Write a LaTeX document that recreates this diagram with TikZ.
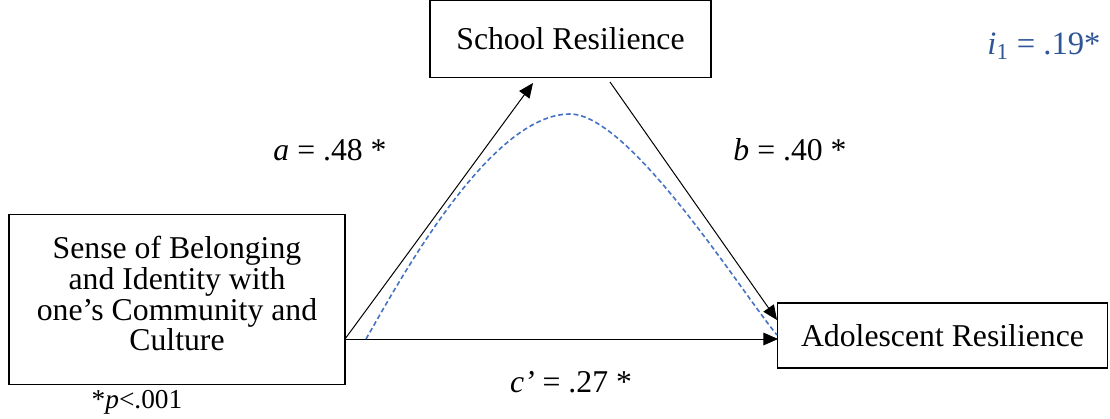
\documentclass[tikz,border=0pt]{standalone}
\usepackage{fontspec}
\setmainfont{Liberation Serif}
\usetikzlibrary{arrows.meta,calc}
\definecolor{PathBlue}{HTML}{4472C4}
\definecolor{LabelBlue}{HTML}{2F5597}

\begin{document}
\begin{tikzpicture}[x=0.75pt,y=-0.75pt,
    every node/.style={font=\fontsize{23.8}{23}\selectfont},
    box/.style={draw, line width=1pt, inner sep=0pt, align=center},
    ar/.style={-{Triangle[length=11pt,width=9.5pt]}, line width=0.75pt},
    ind/.style={PathBlue, dash pattern=on 3.6pt off 2.2pt, line width=1.2pt}]
  \useasboundingbox (0,0) rectangle (1110,418);
  % variables
  \node[box, minimum width=210.75pt, minimum height=57.75pt] (school) at (570.5,39) {School Resilience};
  \node[box, minimum width=252pt, minimum height=127.5pt, text depth=9pt] (sense) at (177,299.5)
    {Sense of Belonging\\and Identity with\\one’s Community and\\Culture};
  \node[box, minimum width=247.5pt, minimum height=48.75pt] (adol) at (942.5,335.5) {Adolescent Resilience};
  % path end points
  \coordinate (src) at (345,339);
  \coordinate (aEnd) at (533,83);
  \coordinate (bStart) at (610,82);
  \coordinate (bEnd) at (777,320);
  \coordinate (cEnd) at (778,339);
  \coordinate (i0) at (366,339);
  \coordinate (top) at (570,114);
  \coordinate (i1) at (777,335);
  \draw[ar] (src) -- (aEnd);
  \draw[ar] (bStart) -- (bEnd);
  \draw[ar] (src) -- (cEnd);
  \draw[ind] (i0) .. controls (400,280) and (490,114) .. (top)
                  .. controls (630,114) and (742,293) .. (i1);
  % coefficients
  \node (la) at (330,150) {\textit{a} = .48 *};
  \node (lb) at (790,150) {\textit{b} = .40 *};
  \node (lc) at (571,382) {\textit{c’} = .27 *};
  \node[LabelBlue, font=\fontsize{24.5}{24}\selectfont] (li) at (1044,46) {\textit{i}\textsubscript{1} = .19*};
  \node[font=\fontsize{20.5}{22}\selectfont] (lp) at (137,402) {*\textit{p}<.001};
\end{tikzpicture}
\end{document}
